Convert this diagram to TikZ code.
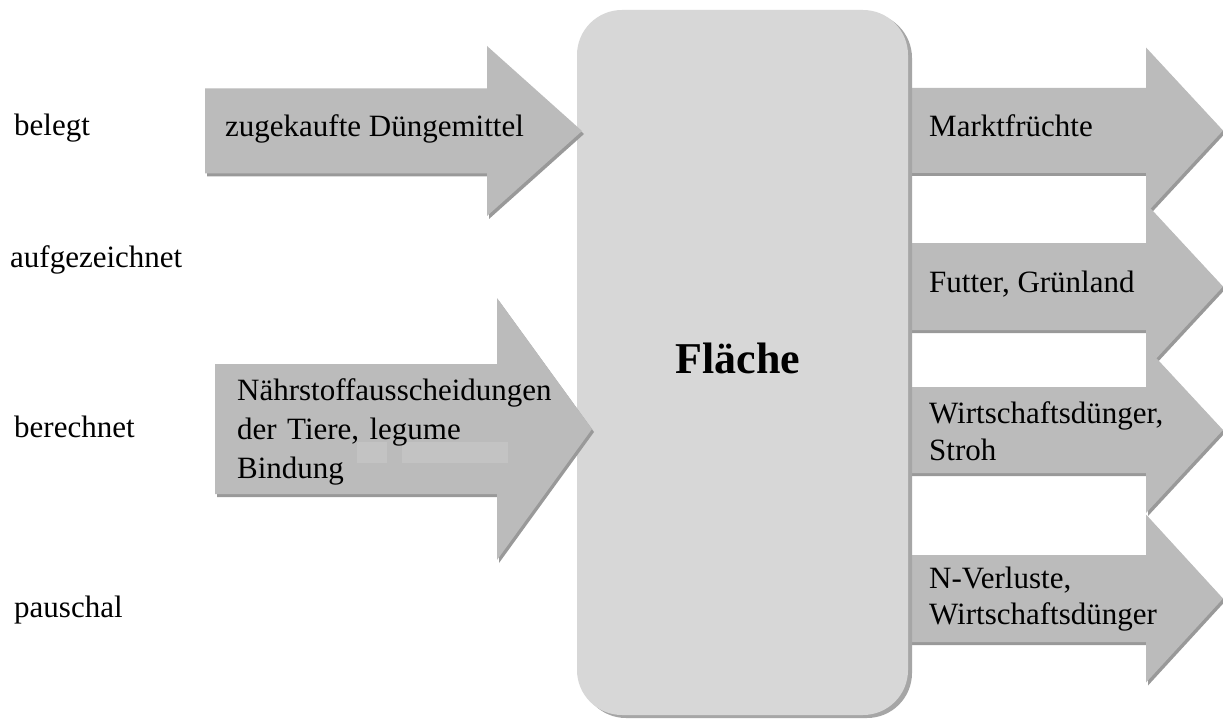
\documentclass[tikz,border=0pt]{standalone}
\usepackage{fontspec}
\setmainfont{Liberation Serif}
\definecolor{arrowfill}{HTML}{BBBBBB}
\definecolor{arrowshade}{HTML}{999999}
\definecolor{boxfill}{HTML}{D7D7D7}
\definecolor{boxshade}{HTML}{A6A6A6}
\definecolor{patch}{HTML}{C3C3C3}
% #1 shaft left x, #2 head x, #3 tip x, #4 centre y, #5 shaft half height, #6 head half height
\newcommand{\drawflow}[6]{%
  \begin{scope}[shift={(2,3)}]
    \fill[arrowshade] ({#1},{#4-#5}) -- ({#2},{#4-#5}) -- ({#2},{#4-#6}) -- ({#3},{#4}) -- ({#2},{#4+#6}) -- ({#2},{#4+#5}) -- ({#1},{#4+#5}) -- cycle;
  \end{scope}
  \fill[arrowfill] ({#1},{#4-#5}) -- ({#2},{#4-#5}) -- ({#2},{#4-#6}) -- ({#3},{#4}) -- ({#2},{#4+#6}) -- ({#2},{#4+#5}) -- ({#1},{#4+#5}) -- cycle;
}
\tikzset{
  lbl/.style={anchor=base west, inner sep=0pt, font=\fontsize{31}{37}\selectfont, text=black},
  mlbl/.style={lbl, align=left, text width=320pt},
  title/.style={inner sep=0pt, font=\fontsize{44}{50}\selectfont\bfseries, anchor=base}
}
\begin{document}
\begin{tikzpicture}[x=1pt, y=-1pt]
\useasboundingbox (0,0) rectangle (1223,722);
\fill[white] (0,0) rectangle (1223,722);
% outgoing arrows (behind the box)
\drawflow{880}{1146}{1223}{130.5}{42.5}{83}
\drawflow{880}{1146}{1223}{286.5}{43.5}{83}
\drawflow{880}{1146}{1223}{430}{43}{83}
\drawflow{880}{1146}{1223}{598.5}{43.5}{84}
% central box
\fill[boxshade, rounded corners=45pt] (581,13) rectangle (912,718);
\node[draw=none, fill=boxfill, rounded corners=45pt, minimum width=331pt, minimum height=705pt, inner sep=0pt] (flaeche) at (742.5,362.5) {};
\node[title] (flaechetxt) at (738,373) {Fläche};
% incoming arrows
\drawflow{205}{487}{582}{131}{42.5}{85}
\drawflow{215}{497}{592}{429}{65}{131}
\fill[patch] (357,442) rectangle (387,463);
\fill[patch] (402,442) rectangle (508,463);
% left labels
\node[lbl] (belegt) at (14,136) {belegt};
\node[lbl] (aufgez) at (10,267) {aufgezeichnet};
\node[lbl] (berechnet) at (14,437) {berechnet};
\node[lbl] (pauschal) at (14,617) {pauschal};
% arrow texts
\node[lbl] (zugekauft) at (225,137) {zugekaufte Düngemittel};
\node[mlbl] (naehr) at (237,400) {Nährstoffausscheidungen\\[2pt]der Tiere, legume\\[2pt]Bindung};
\node[lbl] (markt) at (929,137) {Marktfrüchte};
\node[lbl] (futter) at (929,292) {Futter, Grünland};
\node[mlbl] (wirt) at (929,423) {Wirtschaftsdünger,\\Stroh};
\node[mlbl] (nverl) at (929,588) {N-Verluste,\\[-1pt]Wirtschaftsdünger};
\end{tikzpicture}
\end{document}
